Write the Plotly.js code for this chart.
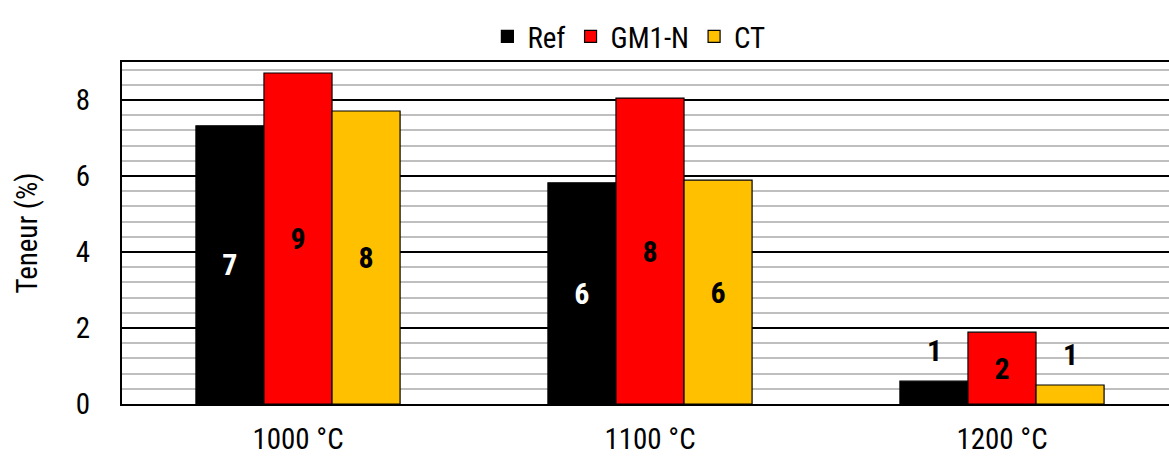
<!DOCTYPE html>
<html>
<head>
<meta charset="utf-8">
<script src="https://cdn.plot.ly/plotly-3.0.1.min.js"></script>
<style>
html,body{margin:0;padding:0;overflow:hidden;background:#fff;}
#chart{width:1182px;height:458px;}
</style>
</head>
<body>
<div id="chart"></div>
<script>
const categories = ["1000 °C", "1100 °C", "1200 °C"];
const seriesNames = ["Ref", "GM1-N", "CT"];
const refValues = [7.32, 5.82, 0.60];
const gm1nValues = [8.71, 8.05, 1.89];
const ctValues = [7.71, 5.89, 0.50];
const yTickVals = [0, 2, 4, 6, 8];

const colors = ["#000000", "#FF0000", "#FFC000"];
const labelColors = ["#FFFFFF", "#000000", "#000000"];
const allValues = [refValues, gm1nValues, ctValues];
const FONT = "'Roboto Condensed', 'Liberation Sans Narrow', 'Arial Narrow', Arial, sans-serif";
const FS = 29;
const SMALL = 1.0; // values below this get their label above the bar

const traces = allValues.map((vals, i) => ({
  type: "bar",
  name: seriesNames[i],
  x: categories,
  y: vals,
  marker: {color: colors[i], line: {color: "#000000", width: 1.2}},
  text: vals.map(v => v < SMALL ? "" : String(Math.round(v))),
  textposition: "inside",
  insidetextanchor: "middle",
  textangle: 0,
  insidetextfont: {family: FONT, size: 30, color: labelColors[i], weight: "bold"},
  hoverinfo: "x+y+name"
}));

const annotations = [];
allValues.forEach((vals, i) => {
  vals.forEach((v, j) => {
    if (v < SMALL) {
      annotations.push({
        x: categories[j], y: v, xref: "x", yref: "y",
        text: "<b>" + Math.round(v) + "</b>",
        showarrow: false, yanchor: "bottom", yshift: 11,
        xshift: (i - 1) * 68,
        font: {family: FONT, size: 30, color: "#000000"}
      });
    }
  });
});

const layout = {
  width: 1182, height: 458,
  margin: {l: 122, r: 4, t: 62, b: 54},
  paper_bgcolor: "#ffffff", plot_bgcolor: "#ffffff",
  font: {family: FONT, size: FS, color: "#000000"},
  barmode: "group", bargap: 0.42, bargroupgap: 0,
  showlegend: true,
  legend: {orientation: "h", x: 0.480, xanchor: "center", y: 1.0, yanchor: "bottom",
           yref: "paper", font: {family: FONT, size: FS, color: "#000000"},
           itemwidth: 30, tracegroupgap: 0, bgcolor: "rgba(0,0,0,0)"},
  xaxis: {
    type: "category", showline: true, linecolor: "#000000", linewidth: 2, mirror: true,
    showgrid: false, zeroline: false, ticks: "", tickfont: {family: FONT, size: FS},
    ticklabelstandoff: 8
  },
  yaxis: {
    range: [0, 9], tickvals: yTickVals, ticktext: yTickVals.map(String),
    showline: true, linecolor: "#000000", linewidth: 2, mirror: true,
    showgrid: true, gridcolor: "#000000", gridwidth: 2,
    zeroline: false, ticks: "", tickfont: {family: FONT, size: FS},
    ticklabelstandoff: 24,
    minor: {dtick: 0.4, tick0: 0, showgrid: true, gridcolor: "#BFBFBF", gridwidth: 2, ticks: ""},
    title: {text: "Teneur (%)", font: {family: FONT, size: FS}, standoff: 30}
  },
  annotations: annotations
};

Plotly.newPlot("chart", traces, layout, {displayModeBar: false, staticPlot: true});
</script>
</body>
</html>
